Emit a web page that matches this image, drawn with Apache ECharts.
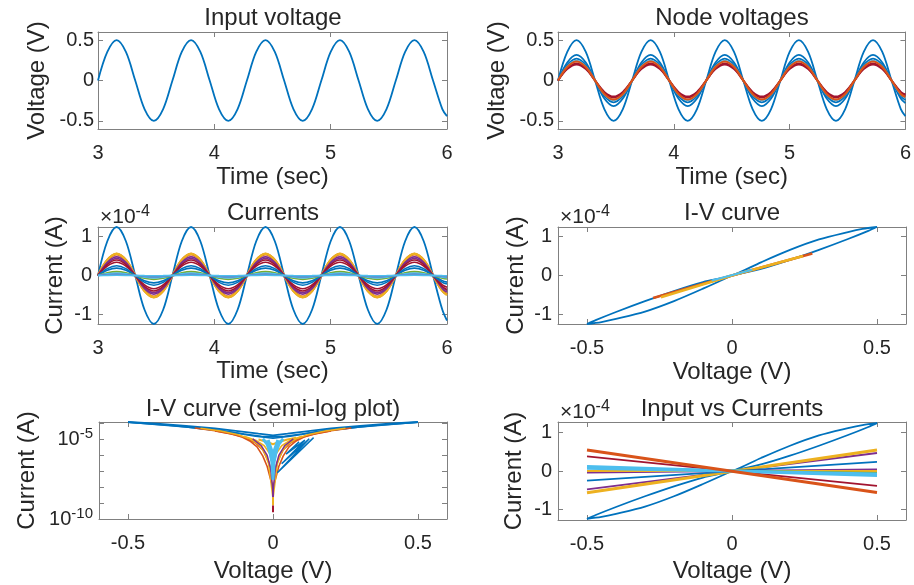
<!DOCTYPE html>
<html>
<head>
<meta charset="utf-8">
<script src="https://cdn.jsdelivr.net/npm/echarts@6.0.0/dist/echarts.min.js"></script>
<style>
html,body{margin:0;padding:0;background:#ffffff;}
#chart{width:914px;height:585px;}
</style>
</head>
<body>
<div id="chart"></div>
<script>
// ================= DATA =================
// shared time samples (sec)
const timeGrid = [3.00,3.08,3.16,3.24,3.32,3.40,3.48,3.56,
  3.64,3.72,3.80,3.88,3.96,4.04,4.12,4.20,
  4.28,4.36,4.44,4.52,4.60,4.68,4.76,4.84,
  4.92,5.00,5.08,5.16,5.24,5.32,5.40,5.48,
  5.56,5.64,5.72,5.80,5.88,5.96,6.00];

// input voltage (V)
const inputVoltage = [0,0.354,0.5,0.354,0,-0.354,-0.5,-0.354, 0,0.354,0.5,0.354,0,-0.354,-0.5,-0.354, 0,0.354,0.5,0.354,0,-0.354,-0.5,-0.354, 0,0.354,0.5,0.354,0,-0.354,-0.5,-0.354, 0,0.354,0.5,0.354,0,-0.354,-0.44];

// node voltages (V)
const nodeV2 = [0,0.223,0.316,0.223,0,-0.223,-0.316,-0.223, 0,0.223,0.316,0.223,0,-0.223,-0.316,-0.223, 0,0.223,0.316,0.223,0,-0.223,-0.316,-0.223, 0,0.223,0.316,0.223,0,-0.223,-0.316,-0.223, 0,0.223,0.316,0.223,0,-0.223,-0.28];
const nodeV3 = [0,0.191,0.27,0.191,0,-0.191,-0.27,-0.191, 0,0.191,0.27,0.191,0,-0.191,-0.27,-0.191, 0,0.191,0.27,0.191,0,-0.191,-0.27,-0.191, 0,0.191,0.27,0.191,0,-0.191,-0.27,-0.191, 0,0.191,0.27,0.191,0,-0.191,-0.24];
const nodeV4 = [0,0.173,0.245,0.173,0,-0.173,-0.245,-0.173, 0,0.173,0.245,0.173,0,-0.173,-0.245,-0.173, 0,0.173,0.245,0.173,0,-0.173,-0.245,-0.173, 0,0.173,0.245,0.173,0,-0.173,-0.245,-0.173, 0,0.173,0.245,0.173,0,-0.173,-0.215];
const nodeV5 = [0,0.166,0.235,0.166,0,-0.166,-0.235,-0.166, 0,0.166,0.235,0.166,0,-0.166,-0.235,-0.166, 0,0.166,0.235,0.166,0,-0.166,-0.235,-0.166, 0,0.166,0.235,0.166,0,-0.166,-0.235,-0.166, 0,0.166,0.235,0.166,0,-0.166,-0.205];
const nodeV6 = [0,0.150,0.212,0.150,0,-0.150,-0.212,-0.150, 0,0.150,0.212,0.150,0,-0.150,-0.212,-0.150, 0,0.150,0.212,0.150,0,-0.150,-0.212,-0.150, 0,0.150,0.212,0.150,0,-0.150,-0.212,-0.150, 0,0.150,0.212,0.150,0,-0.150,-0.185];
const nodeV7 = [0,0.140,0.198,0.140,0,-0.140,-0.198,-0.140, 0,0.140,0.198,0.140,0,-0.140,-0.198,-0.140, 0,0.140,0.198,0.140,0,-0.140,-0.198,-0.140, 0,0.140,0.198,0.140,0,-0.140,-0.198,-0.140, 0,0.140,0.198,0.140,0,-0.140,-0.172];

// branch currents (units of 1e-4 A)
const cur01 = [0,0.884,1.25,0.884,0,-0.884,-1.25,-0.884, 0,0.884,1.25,0.884,0,-0.884,-1.25,-0.884, 0,0.884,1.25,0.884,0,-0.884,-1.25,-0.884, 0,0.884,1.25,0.884,0,-0.884,-1.25,-0.884, 0,0.884,1.25,0.884,0,-0.884,-1.16];
const cur02 = [0,0.389,0.55,0.389,0,-0.389,-0.55,-0.389, 0,0.389,0.55,0.389,0,-0.389,-0.55,-0.389, 0,0.389,0.55,0.389,0,-0.389,-0.55,-0.389, 0,0.389,0.55,0.389,0,-0.389,-0.55,-0.389, 0,0.389,0.55,0.389,0,-0.389,-0.49];
const cur03 = [0,0.396,0.56,0.396,0,-0.396,-0.56,-0.396, 0,0.396,0.56,0.396,0,-0.396,-0.56,-0.396, 0,0.396,0.56,0.396,0,-0.396,-0.56,-0.396, 0,0.396,0.56,0.396,0,-0.396,-0.56,-0.396, 0,0.396,0.56,0.396,0,-0.396,-0.50];
const cur04 = [0,0.339,0.48,0.339,0,-0.339,-0.48,-0.339, 0,0.339,0.48,0.339,0,-0.339,-0.48,-0.339, 0,0.339,0.48,0.339,0,-0.339,-0.48,-0.339, 0,0.339,0.48,0.339,0,-0.339,-0.48,-0.339, 0,0.339,0.48,0.339,0,-0.339,-0.43];
const cur05 = [0,0.311,0.44,0.311,0,-0.311,-0.44,-0.311, 0,0.311,0.44,0.311,0,-0.311,-0.44,-0.311, 0,0.311,0.44,0.311,0,-0.311,-0.44,-0.311, 0,0.311,0.44,0.311,0,-0.311,-0.44,-0.311, 0,0.311,0.44,0.311,0,-0.311,-0.39];
const cur06 = [0,0.283,0.40,0.283,0,-0.283,-0.40,-0.283, 0,0.283,0.40,0.283,0,-0.283,-0.40,-0.283, 0,0.283,0.40,0.283,0,-0.283,-0.40,-0.283, 0,0.283,0.40,0.283,0,-0.283,-0.40,-0.283, 0,0.283,0.40,0.283,0,-0.283,-0.36];
const cur07 = [0,0.240,0.34,0.240,0,-0.240,-0.34,-0.240, 0,0.240,0.34,0.240,0,-0.240,-0.34,-0.240, 0,0.240,0.34,0.240,0,-0.240,-0.34,-0.240, 0,0.240,0.34,0.240,0,-0.240,-0.34,-0.240, 0,0.240,0.34,0.240,0,-0.240,-0.30];
const cur08 = [0,0.177,0.25,0.177,0,-0.177,-0.25,-0.177, 0,0.177,0.25,0.177,0,-0.177,-0.25,-0.177, 0,0.177,0.25,0.177,0,-0.177,-0.25,-0.177, 0,0.177,0.25,0.177,0,-0.177,-0.25,-0.177, 0,0.177,0.25,0.177,0,-0.177,-0.22];
const cur09 = [0,0.134,0.19,0.134,0,-0.134,-0.19,-0.134, 0,0.134,0.19,0.134,0,-0.134,-0.19,-0.134, 0,0.134,0.19,0.134,0,-0.134,-0.19,-0.134, 0,0.134,0.19,0.134,0,-0.134,-0.19,-0.134, 0,0.134,0.19,0.134,0,-0.134,-0.17];
const cur10 = [0,0.071,0.10,0.071,0,-0.071,-0.10,-0.071, 0,0.071,0.10,0.071,0,-0.071,-0.10,-0.071, 0,0.071,0.10,0.071,0,-0.071,-0.10,-0.071, 0,0.071,0.10,0.071,0,-0.071,-0.10,-0.071, 0,0.071,0.10,0.071,0,-0.071,-0.09];
const cur11 = [0,0.042,0.06,0.042,0,-0.042,-0.06,-0.042, 0,0.042,0.06,0.042,0,-0.042,-0.06,-0.042, 0,0.042,0.06,0.042,0,-0.042,-0.06,-0.042, 0,0.042,0.06,0.042,0,-0.042,-0.06,-0.042, 0,0.042,0.06,0.042,0,-0.042,-0.054];
const cur12 = [0,0.018,0.025,0.018,0,-0.018,-0.025,-0.018, 0,0.018,0.025,0.018,0,-0.018,-0.025,-0.018, 0,0.018,0.025,0.018,0,-0.018,-0.025,-0.018, 0,0.018,0.025,0.018,0,-0.018,-0.025,-0.018, 0,0.018,0.025,0.018,0,-0.018,-0.022];
const cur13 = [0,0.007,0.01,0.007,0,-0.007,-0.01,-0.007, 0,0.007,0.01,0.007,0,-0.007,-0.01,-0.007, 0,0.007,0.01,0.007,0,-0.007,-0.01,-0.007, 0,0.007,0.01,0.007,0,-0.007,-0.01,-0.007, 0,0.007,0.01,0.007,0,-0.007,-0.009];

// pinched hysteresis loop of the first element: voltage (V) and current (1e-4 A)
const loopV = [0,0.1,0.2,0.3,0.4,0.47,0.5,0.45,0.4,0.3,0.2,0.1,0,-0.1,-0.2,-0.3,-0.4,-0.47,-0.5,-0.45,-0.4,-0.3,-0.2,-0.1,0];
const loopI = [0,0.17,0.40,0.66,0.94,1.15,1.25,1.20,1.12,0.93,0.66,0.34,0,-0.17,-0.40,-0.66,-0.94,-1.15,-1.25,-1.20,-1.12,-0.93,-0.66,-0.34,0];

// I-V curve of other elements (V, 1e-4 A)
const ivOrangeV = [-0.272,0,0.277];
const ivOrangeI = [-0.58,0,0.57];
const ivYellowV = [-0.245,0,0.245];
const ivYellowI = [-0.56,0,0.50];
const ivCyanV = [-0.07,0.07];
const ivCyanI = [-0.13,0.15];

// Input vs currents: current (1e-4 A) at input -0.5 V and +0.5 V
const icInputV = [-0.5,0.5];
const icOrange = [0.55,-0.56];
const icDarkRed = [0.38,-0.39];
const icCyanA = [0.12,-0.12];
const icCyanB = [0.07,-0.08];
const icGreen = [0.08,-0.05];
const icYellowA = [-0.57,0.55];
const icYellowB = [0.0,0.0];
const icPurpleA = [-0.48,0.47];
const icPurpleB = [-0.04,0.04];
const icBlue2 = [-0.25,0.24];

// semi-log |I| (A) versus V
const slBlueTopV = [-0.5,-0.4,-0.3,-0.2,-0.1,-0.05,0,0.05,0.1,0.2,0.3,0.4,0.5];
const slBlueTopI = [1.25e-4,9.8e-5,7.2e-5,4.9e-5,3.0e-5,2.3e-5,1.8e-5,2.3e-5,3.0e-5,4.9e-5,7.2e-5,9.8e-5,1.25e-4];
const slBlueMidV = [-0.5,-0.35,-0.2,-0.1,-0.04,0,0.04,0.1,0.2,0.35,0.5];
const slBlueMidI = [1.22e-4,7.6e-5,4.0e-5,2.2e-5,1.6e-5,1.45e-5,1.6e-5,2.2e-5,4.0e-5,7.6e-5,1.22e-4];
const slBlueLowV = [-0.5,-0.3,-0.15,-0.06,0,0.06,0.15,0.3,0.5];
const slBlueLowI = [1.2e-4,6.2e-5,3.0e-5,1.6e-5,1.2e-5,1.6e-5,3.0e-5,6.2e-5,1.2e-4];
const slBlueDipV = [0.14,0.015,0.125,0.03,0.11,0.045,0.09];
const slBlueDipI = [1.3e-5,8e-8,1.1e-5,3e-7,9e-6,1.2e-6,7e-6];
const slOrangeV = [-0.27,-0.2,-0.15,-0.11,-0.08,-0.055,-0.035,-0.02,-0.01,0,0.01,0.02,0.035,0.055,0.08,0.11,0.15,0.2,0.27];
const slOrangeI = [5.2e-5,3.6e-5,2.4e-5,1.5e-5,8e-6,3.4e-6,9e-7,2e-7,4e-8,1e-8,4e-8,2e-7,9e-7,3.4e-6,8e-6,1.5e-5,2.4e-5,3.6e-5,5.2e-5];
const slOrange2V = [-0.2,-0.13,-0.09,-0.06,-0.035,-0.015,0,0.015,0.035,0.06,0.09,0.13,0.2];
const slOrange2I = [3.4e-5,2.0e-5,1.2e-5,6e-6,2.2e-6,4e-7,4e-8,4e-7,2.2e-6,6e-6,1.2e-5,2.0e-5,3.4e-5];
const slYellowV = [-0.25,-0.18,-0.12,-0.08,-0.05,-0.03,-0.015,0,0.015,0.03,0.05,0.08,0.12,0.18,0.25];
const slYellowI = [5.0e-5,3.4e-5,2.0e-5,1.1e-5,5e-6,1.6e-6,3e-7,2e-9,3e-7,1.6e-6,5e-6,1.1e-5,2.0e-5,3.4e-5,5.0e-5];
const slYellowCapV = [-0.05,-0.02,0,0.02,0.05,0.08];
const slYellowCapI = [1.0e-5,7e-6,5e-6,7e-6,1.0e-5,1.3e-5];
const slYellow2V = [-0.1,-0.06,-0.03,-0.01,0,0.01,0.03,0.06,0.1];
const slYellow2I = [1.6e-5,9e-6,4e-6,1.2e-6,3e-7,1.2e-6,4e-6,9e-6,1.6e-5];
const slPurpleV = [-0.07,-0.04,-0.02,-0.008,0,0.008,0.02,0.04,0.07];
const slPurpleI = [1.1e-5,4e-6,1e-6,1.5e-7,5e-9,1.5e-7,1e-6,4e-6,1.1e-5];
const slCyanV = [-0.035,-0.02,-0.01,-0.004,0,0.004,0.01,0.02,0.035];
const slCyanI = [1.1e-5,5e-6,1.5e-6,4e-7,3e-8,4e-7,1.5e-6,5e-6,1.1e-5];
const slCyanCoreV = [-0.02,-0.008,0,0.008,0.02];
const slCyanCoreI = [9e-6,2e-6,5e-7,2e-6,9e-6];
const slStemV = [0,0];
const slStemPurpleI = [1.2e-8,2.3e-9];
const slStemYellowI = [2.3e-9,7e-10];
const slStemRedI = [7e-10,2.7e-10];

// tick values
const timeTicks = [3,4,5,6];
const voltTicks = [-0.5,0,0.5];
const currTicks = [-1,0,1];
const logLabelTicks = [1e-10,1e-5];
const logTicks = [1e-10,1e-9,1e-8,1e-7,1e-6,1e-5,1e-4];

// ================= STYLE / LAYOUT =================
const FONT = '"Liberation Sans", Arial, Helvetica, sans-serif';
const COL = {blue:'#0072BD', orange:'#D95319', yellow:'#EDB120', purple:'#7E2F8E', green:'#77AC30', cyan:'#4DBEEE', darkred:'#A2142F'};
const AXIS_COLOR = '#808080';
const TEXT_COLOR = '#262626';
const TICK_FS = 20, LABEL_FS = 24, TITLE_FS = 24;
const WAVE_SMOOTH = 0.33;

const grids = [
  {left:98, top:32, width:349, height:97},
  {left:558, top:32, width:348, height:97},
  {left:98, top:227, width:349, height:97},
  {left:558, top:227, width:348, height:97},
  {left:99, top:422, width:348, height:97},
  {left:558, top:422, width:348, height:98}
];

const xAxes = [], yAxes = [];
function axisPair(list, dim, g, cfg) {
  const base = {
    gridIndex: g, type: cfg.type || 'value', min: cfg.min, max: cfg.max,
    axisLine: {show: true, onZero: false, lineStyle: {color: AXIS_COLOR, width: 1}},
    axisTick: {show: true, inside: true, length: 5, customValues: cfg.ticks, lineStyle: {color: AXIS_COLOR, width: 1}},
    splitLine: {show: false}, minorTick: {show: false}
  };
  if (cfg.type === 'log') base.logBase = 10;
  const primary = Object.assign({}, base, {
    position: dim === 'x' ? 'bottom' : 'left',
    axisLabel: {show: true, customValues: cfg.labels || cfg.ticks, color: TEXT_COLOR, fontSize: TICK_FS,
      fontFamily: FONT, margin: cfg.margin, formatter: cfg.formatter, rich: cfg.rich},
    name: cfg.name, nameLocation: 'middle', nameGap: cfg.nameGap,
    nameTextStyle: {color: TEXT_COLOR, fontSize: LABEL_FS, fontFamily: FONT}
  });
  const mirror = Object.assign({}, base, {
    position: dim === 'x' ? 'top' : 'right',
    axisLabel: {show: false}
  });
  list.push(primary, mirror);
}

const supRich = {
  a: {fontSize: TICK_FS, fontFamily: FONT, color: TEXT_COLOR, lineHeight: 26},
  b: {fontSize: 15, fontFamily: FONT, color: TEXT_COLOR, verticalAlign: 'top'}
};

// grid 0: input voltage
axisPair(xAxes, 'x', 0, {min:3, max:6, ticks: timeTicks, margin: 14, name: 'Time (sec)', nameGap: 36});
axisPair(yAxes, 'y', 0, {min:-0.6, max:0.6, ticks: voltTicks, margin: 4, name: 'Voltage (V)', nameGap: 49});
// grid 1: node voltages
axisPair(xAxes, 'x', 1, {min:3, max:6, ticks: timeTicks, margin: 14, name: 'Time (sec)', nameGap: 36});
axisPair(yAxes, 'y', 1, {min:-0.6, max:0.6, ticks: voltTicks, margin: 4, name: 'Voltage (V)', nameGap: 49});
// grid 2: currents
axisPair(xAxes, 'x', 2, {min:3, max:6, ticks: timeTicks, margin: 14, name: 'Time (sec)', nameGap: 35});
axisPair(yAxes, 'y', 2, {min:-1.25, max:1.25, ticks: currTicks, margin: 6, name: 'Current (A)', nameGap: 31});
// grid 3: I-V curve
axisPair(xAxes, 'x', 3, {min:-0.6, max:0.6, ticks: voltTicks, margin: 14, name: 'Voltage (V)', nameGap: 36});
axisPair(yAxes, 'y', 3, {min:-1.25, max:1.25, ticks: currTicks, margin: 6, name: 'Current (A)', nameGap: 30});
// grid 4: semi-log
axisPair(xAxes, 'x', 4, {min:-0.6, max:0.6, ticks: voltTicks, margin: 14, name: 'Voltage (V)', nameGap: 40});
axisPair(yAxes, 'y', 4, {type:'log', min:1e-10, max:1.25e-4, ticks: logTicks, labels: logLabelTicks, margin: 6,
  name: 'Current (A)', nameGap: 60, rich: supRich,
  formatter: function (v) { return '{a|10}{b|' + Math.round(Math.log10(v)) + '}'; }});
// grid 5: input vs currents
axisPair(xAxes, 'x', 5, {min:-0.6, max:0.6, ticks: voltTicks, margin: 14, name: 'Voltage (V)', nameGap: 39});
axisPair(yAxes, 'y', 5, {min:-1.28, max:1.28, ticks: currTicks, margin: 6, name: 'Current (A)', nameGap: 32});

function pairs(xs, ys) { return xs.map(function (x, i) { return [x, ys[i]]; }); }
function line(g, data, color, width, smooth) {
  return {type: 'line', xAxisIndex: 2 * g, yAxisIndex: 2 * g, data: data, symbol: 'none', showSymbol: false,
    smooth: smooth || false, silent: true, animation: false, clip: true,
    lineStyle: {color: color, width: width}, itemStyle: {color: color}};
}

const series = [];
// input voltage
series.push(line(0, pairs(timeGrid, inputVoltage), COL.blue, 1.8, WAVE_SMOOTH));
// node voltages
series.push(line(1, pairs(timeGrid, inputVoltage), COL.blue, 1.8, WAVE_SMOOTH));
series.push(line(1, pairs(timeGrid, nodeV2), COL.blue, 1.8, WAVE_SMOOTH));
series.push(line(1, pairs(timeGrid, nodeV3), COL.blue, 1.8, WAVE_SMOOTH));
series.push(line(1, pairs(timeGrid, nodeV4), COL.cyan, 1.8, WAVE_SMOOTH));
series.push(line(1, pairs(timeGrid, nodeV6), COL.darkred, 1.8, WAVE_SMOOTH));
series.push(line(1, pairs(timeGrid, nodeV7), COL.darkred, 1.8, WAVE_SMOOTH));
series.push(line(1, pairs(timeGrid, nodeV5), COL.orange, 2.2, WAVE_SMOOTH));
// currents
series.push(line(2, pairs(timeGrid, cur01), COL.blue, 1.8, WAVE_SMOOTH));
series.push(line(2, pairs(timeGrid, cur02), COL.orange, 2.6, WAVE_SMOOTH));
series.push(line(2, pairs(timeGrid, cur03), COL.yellow, 2.4, WAVE_SMOOTH));
series.push(line(2, pairs(timeGrid, cur04), COL.purple, 1.6, WAVE_SMOOTH));
series.push(line(2, pairs(timeGrid, cur05), COL.purple, 1.6, WAVE_SMOOTH));
series.push(line(2, pairs(timeGrid, cur06), COL.darkred, 1.6, WAVE_SMOOTH));
series.push(line(2, pairs(timeGrid, cur07), COL.darkred, 1.6, WAVE_SMOOTH));
series.push(line(2, pairs(timeGrid, cur08), COL.blue, 1.6, WAVE_SMOOTH));
series.push(line(2, pairs(timeGrid, cur09), COL.blue, 1.6, WAVE_SMOOTH));
series.push(line(2, pairs(timeGrid, cur10), COL.green, 1.6, WAVE_SMOOTH));
series.push(line(2, pairs(timeGrid, cur11), COL.cyan, 1.6, WAVE_SMOOTH));
series.push(line(2, pairs(timeGrid, cur12), COL.purple, 1.6, WAVE_SMOOTH));
series.push(line(2, pairs(timeGrid, cur13), COL.cyan, 1.8, WAVE_SMOOTH));
// I-V curve
series.push(line(3, pairs(loopV, loopI), COL.blue, 1.8, 0.3));
series.push(line(3, pairs(ivOrangeV, ivOrangeI), COL.orange, 2.6, false));
series.push(line(3, pairs(ivYellowV, ivYellowI), COL.yellow, 2.6, false));
series.push(line(3, pairs(ivCyanV, ivCyanI), COL.cyan, 2, false));
// semi-log
series.push(line(4, pairs(slBlueTopV, slBlueTopI), COL.blue, 1.8, false));
series.push(line(4, pairs(slBlueMidV, slBlueMidI), COL.blue, 1.6, false));
series.push(line(4, pairs(slBlueLowV, slBlueLowI), COL.blue, 1.6, false));
series.push(line(4, pairs(slOrangeV, slOrangeI), COL.orange, 1.6, false));
series.push(line(4, pairs(slOrange2V, slOrange2I), COL.orange, 1.6, false));
series.push(line(4, pairs(slYellowV, slYellowI), COL.yellow, 1.6, false));
series.push(line(4, pairs(slYellow2V, slYellow2I), COL.yellow, 1.6, false));
series.push(line(4, pairs(slYellowCapV, slYellowCapI), COL.yellow, 2, false));
series.push(line(4, pairs(slBlueDipV, slBlueDipI), COL.blue, 1.5, false));
series.push(line(4, pairs(slPurpleV, slPurpleI), COL.purple, 1.5, false));
series.push(line(4, pairs(slCyanV, slCyanI), COL.cyan, 3, false));
series.push(line(4, pairs(slCyanCoreV, slCyanCoreI), COL.cyan, 5, false));
series.push(line(4, pairs(slStemV, slStemPurpleI), COL.purple, 2, false));
series.push(line(4, pairs(slStemV, slStemYellowI), COL.yellow, 2, false));
series.push(line(4, pairs(slStemV, slStemRedI), COL.darkred, 2, false));
// input vs currents
series.push(line(5, pairs(loopV, loopI), COL.blue, 1.8, 0.3));
series.push(line(5, pairs(icInputV, icPurpleA), COL.purple, 2, false));
series.push(line(5, pairs(icInputV, icYellowA), COL.yellow, 3, false));
series.push(line(5, pairs(icInputV, icBlue2), COL.blue, 1.8, false));
series.push(line(5, pairs(icInputV, icPurpleB), COL.purple, 2, false));
series.push(line(5, pairs(icInputV, icYellowB), COL.yellow, 2, false));
series.push(line(5, pairs(icInputV, icGreen), COL.green, 2, false));
series.push(line(5, pairs(icInputV, icDarkRed), COL.darkred, 1.8, false));
series.push(line(5, pairs(icInputV, icCyanA), COL.cyan, 3, false));
series.push(line(5, pairs(icInputV, icCyanB), COL.cyan, 3, false));
series.push(line(5, pairs(icInputV, icOrange), COL.orange, 3, false));

// titles and exponent labels
const titleSpecs = [
  {text: 'Input voltage', x: 273, y: 18},
  {text: 'Node voltages', x: 732, y: 18},
  {text: 'Currents', x: 273, y: 213},
  {text: 'I-V curve', x: 732, y: 213},
  {text: 'I-V curve (semi-log plot)', x: 273, y: 409},
  {text: 'Input vs Currents', x: 732, y: 409}
];
const graphics = titleSpecs.map(function (t) {
  return {type: 'text', x: t.x, y: t.y, silent: true,
    style: {text: t.text, fill: TEXT_COLOR, font: TITLE_FS + 'px ' + FONT,
      align: 'center', verticalAlign: 'middle', textAlign: 'center', textVerticalAlign: 'middle'}};
});
const expSpecs = [{x: 100, y: 217}, {x: 560, y: 217}, {x: 560, y: 412}];
expSpecs.forEach(function (e) {
  graphics.push({type: 'text', x: e.x, y: e.y, silent: true,
    style: {text: '{a|\u00d710}{b|-4}', fill: TEXT_COLOR, align: 'left', verticalAlign: 'middle',
      textAlign: 'left', textVerticalAlign: 'middle',
      rich: {a: {fontSize: 21, fontFamily: FONT, fill: TEXT_COLOR, lineHeight: 26},
             b: {fontSize: 16, fontFamily: FONT, fill: TEXT_COLOR, verticalAlign: 'top'}}}});
});

const chart = echarts.init(document.getElementById('chart'), null, {renderer: 'canvas'});
chart.setOption({
  animation: false,
  backgroundColor: '#ffffff',
  grid: grids,
  xAxis: xAxes,
  yAxis: yAxes,
  series: series,
  graphic: graphics
});
</script>
</body>
</html>
